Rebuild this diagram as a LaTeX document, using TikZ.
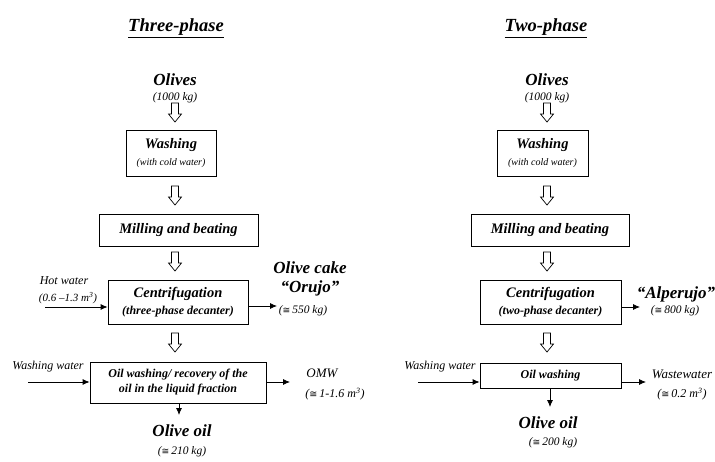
\documentclass[tikz,border=0pt]{standalone}
\usepackage{fontspec}
\setmainfont{Liberation Serif}
\newfontfamily\symf{DejaVu Sans}
\usetikzlibrary{arrows.meta,calc}
\newcommand{\fs}[1]{\fontsize{#1}{#1}\selectfont}
\newcommand{\apx}{{\symf\upshape\mdseries\scalebox{0.8}{≅}}\,}
\tikzset{
  box/.style={draw, line width=0.8pt, inner sep=0pt, align=center, font=\bfseries\itshape\fs{14.5}},
  lbl/.style={inner sep=0pt, align=center},
  big/.style={lbl, font=\bfseries\itshape\fs{17}},
  small/.style={lbl, font=\itshape\fs{11.5}},
  med/.style={lbl, font=\itshape\fs{12}},
  ttl/.style={lbl, font=\bfseries\itshape\fs{18.5}},
  flow/.style={line width=0.8pt, -{Latex[length=7pt,width=6pt]}},
  harrow/.pic={\draw[line width=0.7pt, fill=white] (-3.5,0) -- (3.5,0) -- (3.5,11) -- (6.5,11) -- (0,19) -- (-6.5,11) -- (-3.5,11) -- cycle;}
}
\begin{document}
\begin{tikzpicture}[x=1pt,y=-1pt]
\useasboundingbox (0,0) rectangle (715,462);
% ---------- Three-phase ----------
\node[ttl] (t3) at (176,28) {\underline{Three-phase}};
\node[big] (ol3) at (175,80) {Olives};
\node[small] (ol3q) at (175,98) {(1000 kg)};
\pic at (175,103) {harrow};
\node[box, minimum width=90pt, minimum height=46pt] (wa3) at (171,153) {Washing\\[2pt]{\mdseries\itshape\fs{10}(with cold water)}};
\pic at (175,186) {harrow};
\node[box, minimum width=159pt, minimum height=32pt] (mi3) at (178.5,230) {Milling and beating};
\pic at (175,252) {harrow};
\node[box, minimum width=140pt, minimum height=44pt] (ce3) at (178,302) {Centrifugation\\[3pt]{\fs{12}(three-phase decanter)}};
\node[med] (hw) at (64,281) {Hot water};
\node[lbl, font=\itshape\fs{11}] (hwq) at (68,298) {(0.6 –1.3 m\textsuperscript{3})};
\coordinate (hws) at (45,307);
\draw[flow] (hws) -- (hws -| ce3.west);
\coordinate (ocs) at (ce3.east |- 0,306);
\coordinate (oce) at (277,306);
\draw[flow] (ocs) -- (oce);
\node[big] (oc1) at (310,268) {Olive cake};
\node[big] (oc2) at (310,288) {“Orujo”};
\node[small] (ocq) at (303,311) {(\apx550 kg)};
\pic at (175,333) {harrow};
\node[box, minimum width=176pt, minimum height=41pt, font=\bfseries\itshape\fs{12}] (ow3) at (178,382.5) {Oil washing/ recovery of the\\[3pt]oil in the liquid fraction};
\node[med] (ww3) at (48,367) {Washing water};
\coordinate (ww3s) at (28,382);
\draw[flow] (ww3s) -- (ww3s -| ow3.west);
\coordinate (omws) at (ow3.east |- 0,382);
\coordinate (omwe) at (290,382);
\draw[flow] (omws) -- (omwe);
\node[lbl, font=\itshape\fs{13}] (omw) at (322,373) {OMW};
\node[lbl, font=\itshape\fs{12}] (omwq) at (335,394) {(\apx1-1.6 m\textsuperscript{3})};
\coordinate (oo3e) at (179,415);
\draw[flow] (ow3.south -| oo3e) -- (oo3e);
\node[big] (oo3) at (182,431) {Olive oil};
\node[small] (oo3q) at (182,452) {(\apx210 kg)};
% ---------- Two-phase ----------
\node[ttl] (t2) at (546,28) {\underline{Two-phase}};
\node[big] (ol2) at (547,80) {Olives};
\node[small] (ol2q) at (547,98) {(1000 kg)};
\pic at (547,103) {harrow};
\node[box, minimum width=91pt, minimum height=46pt] (wa2) at (542.5,153) {Washing\\[2pt]{\mdseries\itshape\fs{10}(with cold water)}};
\pic at (547,186) {harrow};
\node[box, minimum width=158pt, minimum height=32pt] (mi2) at (550,230) {Milling and beating};
\pic at (547,252) {harrow};
\node[box, minimum width=141pt, minimum height=44pt] (ce2) at (550.5,302) {Centrifugation\\[3pt]{\fs{12}(two-phase decanter)}};
\coordinate (als) at (ce2.east |- 0,307);
\coordinate (ale) at (640,307);
\draw[flow] (als) -- (ale);
\node[big] (al) at (676,294) {“Alperujo”};
\node[small] (alq) at (675,311) {(\apx800 kg)};
\pic at (547,333) {harrow};
\node[box, minimum width=141pt, minimum height=25pt, font=\bfseries\itshape\fs{12}] (ow2) at (550.5,375.5) {Oil washing};
\node[med] (ww2) at (440,367) {Washing water};
\coordinate (ww2s) at (418,382);
\draw[flow] (ww2s) -- (ww2s -| ow2.west);
\coordinate (wws) at (ow2.east |- 0,382);
\coordinate (wwe) at (646,382);
\draw[flow] (wws) -- (wwe);
\node[lbl, font=\itshape\fs{13}] (wwt) at (682,374) {Wastewater};
\node[lbl, font=\itshape\fs{12}] (wwq) at (682,394) {(\apx0.2 m\textsuperscript{3})};
\coordinate (oo2e) at (550,407);
\draw[flow] (ow2.south -| oo2e) -- (oo2e);
\node[big] (oo2) at (548,423) {Olive oil};
\node[small] (oo2q) at (553,443) {(\apx200 kg)};
\end{tikzpicture}
\end{document}
